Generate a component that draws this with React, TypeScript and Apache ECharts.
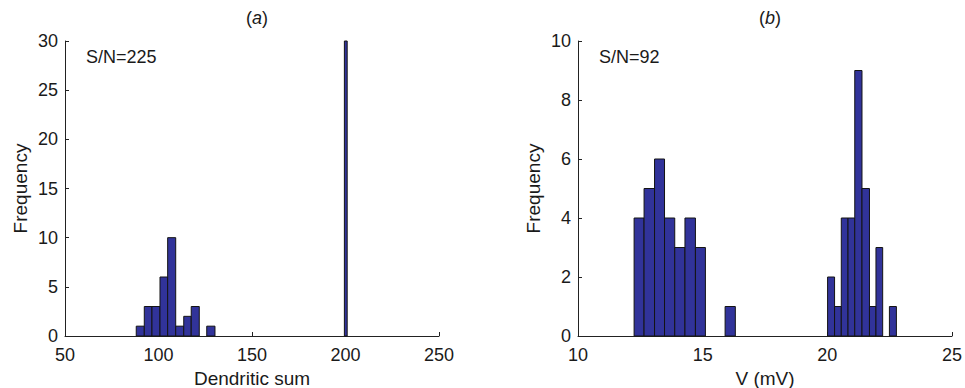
import React, { useEffect, useRef } from "react";
import * as echarts from "echarts";

// Panel (a): dendritic sum histogram — bin edges and counts
const binLoA = [88.1, 92.4, 96.5, 100.8, 104.9, 109.2, 113.5, 117.5, 125.8, 199.4];
const binHiA = [92.4, 96.5, 100.8, 104.9, 109.2, 113.5, 117.5, 121.8, 130.2, 200.9];
const countsA = [1, 3, 3, 6, 10, 1, 2, 3, 1, 30];

// Panel (b): voltage histogram — bin edges and counts
const binLoB = [12.25, 12.65, 13.07, 13.47, 13.88, 14.29, 14.71, 15.9, 20.01, 20.29, 20.56, 20.83, 21.1, 21.39, 21.69, 21.95, 22.49];
const binHiB = [12.65, 13.07, 13.47, 13.88, 14.29, 14.71, 15.11, 16.31, 20.29, 20.56, 20.83, 21.1, 21.39, 21.69, 21.95, 22.22, 22.77];
const countsB = [4, 5, 6, 4, 3, 4, 3, 1, 2, 1, 4, 4, 9, 5, 1, 3, 1];

const titles = ["a", "b"];
const snLabels = ["S/N=225", "S/N=92"];
const xNames = ["Dendritic sum", "V (mV)"];
const yName = "Frequency";

const FONT = "'Liberation Sans', Arial, Helvetica, sans-serif";
const FS = 18;
const NAME_FS = 19;
const TEXT = "#1a1a1a";
const BAR = "#31339a";

function histData(lo: number[], hi: number[], c: number[]) {
  return lo.map((l, i) => [l, hi[i], c[i]]);
}

function renderBin(params: any, api: any) {
  const p0 = api.coord([api.value(0), 0]);
  const p1 = api.coord([api.value(1), api.value(2)]);
  return {
    type: "rect",
    shape: { x: p0[0], y: p1[1], width: p1[0] - p0[0], height: p0[1] - p1[1] },
    style: { fill: BAR, stroke: "#141414", lineWidth: 1 },
  };
}

function panelTitle(letter: string, cx: number) {
  return {
    text: "({a|" + letter + "})",
    left: cx,
    top: 4,
    textAlign: "center",
    textStyle: {
      fontSize: FS,
      fontWeight: "normal",
      color: TEXT,
      fontFamily: FONT,
      rich: { a: { fontStyle: "italic", fontSize: FS, color: TEXT, fontFamily: FONT } },
    },
  };
}

export default function App() {
  const ref = useRef<HTMLDivElement>(null);

  useEffect(() => {
    if (!ref.current) return;
    const chart = echarts.init(ref.current, undefined, { renderer: "svg" });

    const axisCommon = {
      axisLine: { show: true, lineStyle: { color: "#222", width: 1 } },
      axisTick: { show: true, inside: true, length: 4, lineStyle: { color: "#222" } },
      splitLine: { show: false },
      nameTextStyle: { color: TEXT, fontSize: NAME_FS, fontFamily: FONT },
    };
    const xLabel = { color: TEXT, fontSize: FS, fontFamily: FONT, margin: 10 };
    const yLabel = { color: TEXT, fontSize: FS, fontFamily: FONT, margin: 7 };

    chart.setOption({
      animation: false,
      backgroundColor: "#ffffff",
      grid: [
        { left: 65, width: 374, top: 41, height: 295, outerBoundsMode: "none", containLabel: false },
        { left: 578, width: 374, top: 41, height: 295, outerBoundsMode: "none", containLabel: false },
      ],
      title: [
        panelTitle(titles[0], 252),
        panelTitle(titles[1], 765),
        {
          text: snLabels[0],
          left: 81,
          top: 43,
          textStyle: { fontSize: FS, fontWeight: "normal", color: TEXT, fontFamily: FONT },
        },
        {
          text: snLabels[1],
          left: 594,
          top: 43,
          textStyle: { fontSize: FS, fontWeight: "normal", color: TEXT, fontFamily: FONT },
        },
      ],
      xAxis: [
        {
          ...axisCommon,
          type: "value",
          gridIndex: 0,
          min: 50,
          max: 250,
          interval: 50,
          name: xNames[0],
          nameLocation: "middle",
          nameGap: 30,
          axisLabel: xLabel,
        },
        {
          ...axisCommon,
          type: "value",
          gridIndex: 1,
          min: 10,
          max: 25,
          interval: 5,
          name: xNames[1],
          nameLocation: "middle",
          nameGap: 30,
          axisLabel: xLabel,
        },
      ],
      yAxis: [
        {
          ...axisCommon,
          type: "value",
          gridIndex: 0,
          min: 0,
          max: 30,
          interval: 5,
          name: yName,
          nameLocation: "middle",
          nameGap: 35,
          axisLabel: yLabel,
        },
        {
          ...axisCommon,
          type: "value",
          gridIndex: 1,
          min: 0,
          max: 10,
          interval: 2,
          name: yName,
          nameLocation: "middle",
          nameGap: 35,
          axisLabel: yLabel,
        },
      ],
      series: [
        {
          type: "custom",
          xAxisIndex: 0,
          yAxisIndex: 0,
          renderItem: renderBin,
          encode: { x: [0, 1], y: 2 },
          data: histData(binLoA, binHiA, countsA),
        },
        {
          type: "custom",
          xAxisIndex: 1,
          yAxisIndex: 1,
          renderItem: renderBin,
          encode: { x: [0, 1], y: 2 },
          data: histData(binLoB, binHiB, countsB),
        },
      ],
    });

    return () => chart.dispose();
  }, []);

  return (
    <div
      ref={ref}
      style={{ position: "fixed", left: 0, top: 0, width: 965, height: 388, background: "#fff" }}
    />
  );
}
